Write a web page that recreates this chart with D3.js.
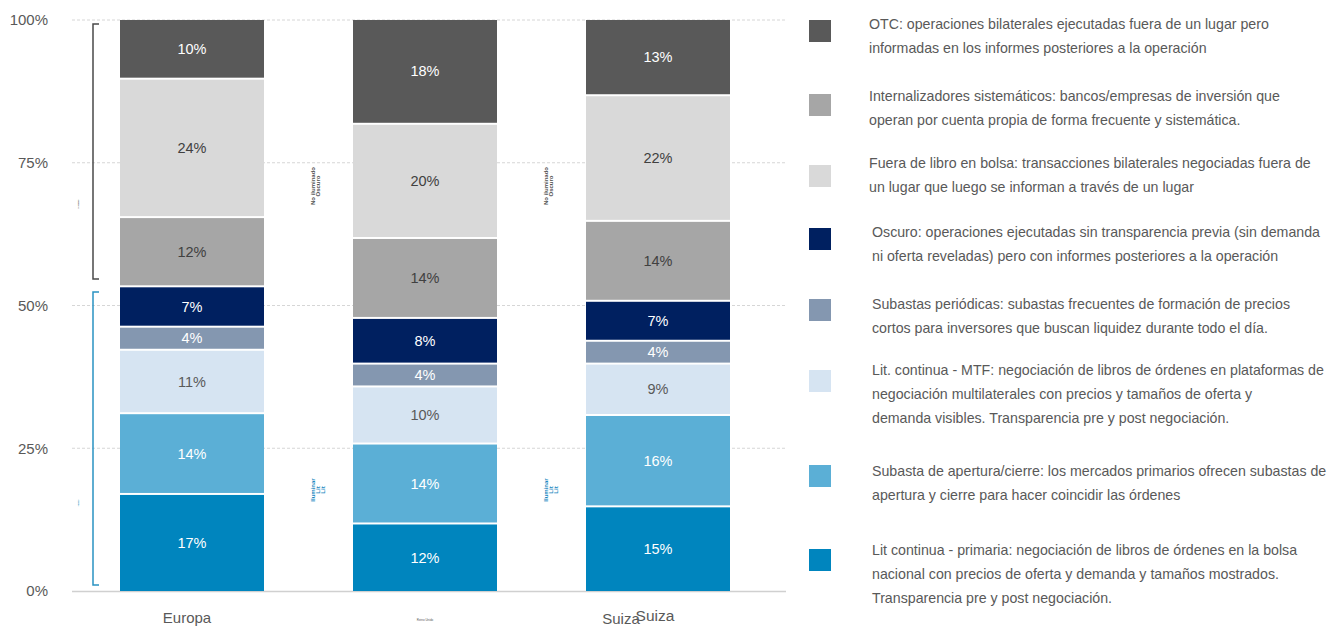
<!DOCTYPE html>
<html>
<head>
<meta charset="utf-8">
<script src="https://cdn.jsdelivr.net/npm/d3@7"></script>
<style>
  html, body { margin: 0; padding: 0; background: #fff; }
  svg { display: block; font-family: "Liberation Sans", Arial, sans-serif; }
</style>
</head>
<body>
<svg id="chart" width="1338" height="626"></svg>
<script>
// ---------- DATA ----------
const categories = ["Europa", "Reino Unido", "Suiza"];
// series, bottom to top
const seriesKeys = ["primaria", "apertura", "mtf", "periodicas", "oscuro", "si", "fueraLibro", "otc"];
const primaria   = [17, 12, 15];
const apertura   = [14, 14, 16];
const mtf        = [11, 10, 9];
const periodicas = [4, 4, 4];
const oscuro     = [7, 8, 7];
const si         = [12, 14, 14];
const fueraLibro = [24, 20, 22];
const otc        = [10, 18, 13];
const yTicks = [0, 0.25, 0.5, 0.75, 1];

const seriesColors = ["#0085be", "#5bafd6", "#d6e4f2", "#8497b0", "#002060", "#a6a6a6", "#d9d9d9", "#595959"];
const labelColors  = ["#ffffff", "#ffffff", "#595959", "#ffffff", "#ffffff", "#404040", "#404040", "#ffffff"];

// legend (top to bottom)
const legendKeys = ["otc", "si", "fueraLibro", "oscuro", "periodicas", "mtf", "apertura", "primaria"];
const legendTexts = [
  ["OTC: operaciones bilaterales ejecutadas fuera de un lugar pero", "informadas en los informes posteriores a la operación"],
  ["Internalizadores sistemáticos: bancos/empresas de inversión que", "operan por cuenta propia de forma frecuente y sistemática."],
  ["Fuera de libro en bolsa: transacciones bilaterales negociadas fuera de", "un lugar que luego se informan a través de un lugar"],
  ["Oscuro: operaciones ejecutadas sin transparencia previa (sin demanda", "ni oferta reveladas) pero con informes posteriores a la operación"],
  ["Subastas periódicas: subastas frecuentes de formación de precios", "cortos para inversores que buscan liquidez durante todo el día."],
  ["Lit. continua - MTF: negociación de libros de órdenes en plataformas de", "negociación multilaterales con precios y tamaños de oferta y", "demanda visibles. Transparencia pre y post negociación."],
  ["Subasta de apertura/cierre: los mercados primarios ofrecen subastas de", "apertura y cierre para hacer coincidir las órdenes"],
  ["Lit continua - primaria: negociación de libros de órdenes en la bolsa", "nacional con precios de oferta y demanda y tamaños mostrados.", "Transparencia pre y post negociación."]
];

// ---------- LAYOUT ----------
const legendSquareCY = [31, 105, 176, 239, 310, 381, 476, 560];
const legendTextY    = [24, 96, 163, 232, 304, 370, 471, 550];
const legendTextX    = [869, 869, 869, 872, 872, 872, 872, 872];

const svg = d3.select("#chart");
const valuesByKey = { primaria, apertura, mtf, periodicas, oscuro, si, fueraLibro, otc };
const table = categories.map((c, i) => {
  const row = { cat: c };
  seriesKeys.forEach(k => row[k] = valuesByKey[k][i]);
  return row;
});
const stacked = d3.stack().keys(seriesKeys).offset(d3.stackOffsetExpand)(table);

const x = d3.scaleBand().domain(categories).range([75.5, 774.5]).paddingInner(0.382).paddingOuter(0.191);
const y = d3.scaleLinear().domain([0, 1]).range([591, 20]);

// grid
svg.append("g").selectAll("line").data(yTicks.filter(t => t > 0)).join("line")
  .attr("x1", 72).attr("x2", 786)
  .attr("y1", d => y(d)).attr("y2", d => y(d))
  .attr("stroke", "#d6d6d6").attr("stroke-width", 1).attr("stroke-dasharray", "3,2");

// y tick labels
svg.append("g").selectAll("text").data(yTicks).join("text")
  .attr("x", 48).attr("y", d => y(d)).attr("dy", "0.35em")
  .attr("text-anchor", "end").attr("font-size", 15).attr("fill", "#595959")
  .text(d => d3.format(".0%")(d));

// baseline
svg.append("line").attr("x1", 72).attr("x2", 786).attr("y1", y(0) + 0.5).attr("y2", y(0) + 0.5)
  .attr("stroke", "#d0d0d0").attr("stroke-width", 1.5);

// bars
const gap = 2;
const layers = svg.append("g").selectAll("g").data(stacked).join("g")
  .attr("fill", (d, i) => seriesColors[i]);
layers.selectAll("rect").data(d => d.map(p => ({ p, cat: p.data.cat }))).join("rect")
  .attr("x", d => x(d.cat))
  .attr("width", x.bandwidth())
  .attr("y", d => y(d.p[1]) + (d.p[1] < 0.9999 ? gap : 0))
  .attr("height", d => Math.max(0, y(d.p[0]) - y(d.p[1]) - (d.p[1] < 0.9999 ? gap : 0)));

// segment labels
const labG = svg.append("g");
stacked.forEach((layer, si_) => {
  layer.forEach(p => {
    const v = p.data[layer.key];
    labG.append("text")
      .attr("x", x(p.data.cat) + x.bandwidth() / 2)
      .attr("y", (y(p[0]) + y(p[1]) + (p[1] < 0.9999 ? gap : 0)) / 2)
      .attr("dy", "0.35em").attr("text-anchor", "middle")
      .attr("font-size", 14.5).attr("fill", labelColors[si_])
      .text(v + "%");
  });
});

// brackets
svg.append("path").attr("d", "M99,24 H93 V279 H99").attr("fill", "none")
  .attr("stroke", "#4a4a4a").attr("stroke-width", 1.5);
svg.append("path").attr("d", "M99,292 H93 V585 H99").attr("fill", "none")
  .attr("stroke", "#2a93c2").attr("stroke-width", 1.5);

// tiny bracket labels
svg.append("text").attr("transform", "translate(79,204) rotate(-90)").attr("text-anchor", "middle")
  .attr("font-size", 1.5).attr("fill", "#595959").text("No iluminado");
svg.append("text").attr("transform", "translate(79,503) rotate(-90)").attr("text-anchor", "middle")
  .attr("font-size", 1.5).attr("fill", "#2a93c2").text("Iluminado");

// tiny rotated labels between bars
[0, 1].forEach(i => {
  const cx = (x(categories[i]) + x.bandwidth() + x(categories[i + 1])) / 2 + 6;
  const gT = svg.append("text").attr("transform", `translate(${cx},186) rotate(-90)`)
    .attr("text-anchor", "middle").attr("font-size", 6).attr("fill", "#555").attr("font-weight", "bold");
  gT.append("tspan").attr("x", 0).attr("dy", 0).text("No iluminado");
  gT.append("tspan").attr("x", 0).attr("dy", 5).text("Oscuro");
  const gB = svg.append("text").attr("transform", `translate(${cx},490) rotate(-90)`)
    .attr("text-anchor", "middle").attr("font-size", 6).attr("fill", "#1a88c0").attr("font-weight", "bold");
  gB.append("tspan").attr("x", 0).attr("dy", 0).text("Iluminar");
  gB.append("tspan").attr("x", 0).attr("dy", 5).text("Lit");
  gB.append("tspan").attr("x", 0).attr("dy", 5).text("Lit");
});

// x labels
svg.append("text").attr("x", x("Europa") + x.bandwidth() / 2 - 5).attr("y", 623)
  .attr("text-anchor", "middle").attr("font-size", 15).attr("fill", "#595959").text("Europa");
svg.append("text").attr("x", x("Reino Unido") + x.bandwidth() / 2).attr("y", 621)
  .attr("text-anchor", "middle").attr("font-size", 3).attr("fill", "#595959").text("Reino Unido");
svg.append("text").attr("x", x("Suiza") + x.bandwidth() / 2 - 37).attr("y", 624)
  .attr("text-anchor", "middle").attr("font-size", 15).attr("fill", "#595959").text("Suiza");
svg.append("text").attr("x", x("Suiza") + x.bandwidth() / 2 - 3).attr("y", 621)
  .attr("text-anchor", "middle").attr("font-size", 15.5).attr("fill", "#595959").text("Suiza");

// legend
const colorByKey = {};
seriesKeys.forEach((k, i) => colorByKey[k] = seriesColors[i]);
const lg = svg.append("g");
legendKeys.forEach((k, i) => {
  lg.append("rect").attr("x", 809).attr("y", legendSquareCY[i] - 11).attr("width", 22).attr("height", 22)
    .attr("fill", colorByKey[k]);
  legendTexts[i].forEach((line, j) => {
    lg.append("text").attr("x", legendTextX[i]).attr("y", legendTextY[i] + j * 24).attr("dy", "0.35em")
      .attr("font-size", 14.2).attr("fill", "#595959").text(line);
  });
});
</script>
</body>
</html>
